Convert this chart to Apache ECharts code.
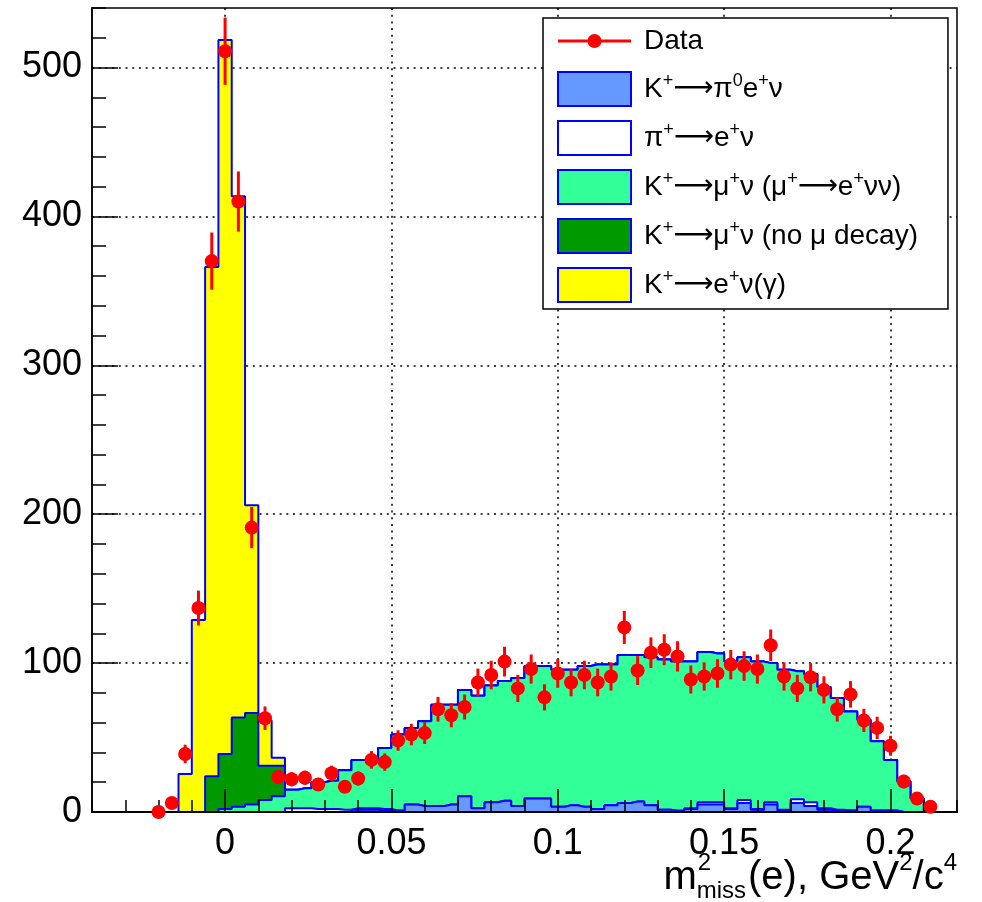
<!DOCTYPE html>
<html><head><meta charset="utf-8">
<script src="https://cdn.jsdelivr.net/npm/echarts@6/dist/echarts.min.js"></script>
<style>html,body{margin:0;padding:0;background:#fff}#c{width:982px;height:902px}</style>
</head><body><div id="c"></div>
<script>
// bin centres (GeV^2/c^4), bin width 0.004
const binCenters = [-0.024,-0.020,-0.016,-0.012,-0.008,-0.004,0,0.004,0.008,0.012,
  0.016,0.020,0.024,0.028,0.032,0.036,0.040,0.044,0.048,0.052,
  0.056,0.060,0.064,0.068,0.072,0.076,0.080,0.084,0.088,0.092,
  0.096,0.100,0.104,0.108,0.112,0.116,0.120,0.124,0.128,0.132,
  0.136,0.140,0.144,0.148,0.152,0.156,0.160,0.164,0.168,0.172,
  0.176,0.180,0.184,0.188,0.192,0.196,0.200,0.204,0.208,0.212,0.216];
const dataCounts = [null,0,6,39,137,370,511,410,191,63,
  23.5,22,23,18.5,26,17,22.5,35,33.5,48,
  52,53,69,65,70.5,87,92,101,83,96,
  77,93,87,92,87,91,124,95,107,109,
  104.5,89,91,93,99,98,96,112,91,83,
  90.5,82,69,79,61.5,56.5,44.5,20.5,9,3.5,null];
const dataErrors = [null,0,2.4,6.2,11.7,19.2,22.6,20.2,13.8,7.9,
  4.8,4.7,4.8,4.3,5.1,4.1,4.7,5.9,5.8,6.9,
  7.2,7.3,8.3,8.1,8.4,9.3,9.6,10,9.1,9.8,
  8.8,9.6,9.3,9.6,9.3,9.5,11.1,9.7,10.3,10.4,
  10.2,9.4,9.5,9.6,9.9,9.9,9.8,10.6,9.5,9.1,
  9.5,9.1,8.3,8.9,7.8,7.5,6.7,4.5,3,1.9,null];
const kPi0ENu = [0,0,0,0,0,0,0,0,0,0,
  0,0,0,0,0,0,1.5,1.5,1,1,
  5,4,4,5,10.5,2.5,6.5,7.5,4,9,
  9,3.5,4.5,3.5,2,4.5,6,7,4.5,1.5,
  0.5,2,5,5,2,6,1.5,5,1,6,
  4,1.5,1,1,3.5,1,1,0,0,0,0];
const piENu = [0,0,0,0,0,0,0,0,0,0,
  0,2.5,2.5,2,2,1.5,1,1,1,0,
  0,0,0,0,0,0,0,0,0,0,
  0,0,0,0,0,0,0,0,0,0,
  0.5,0.5,1.5,1.5,0.5,2,0.5,1.5,0.5,2.5,
  2.5,1,0.5,0,0,0,0,0,0,0,0];
const kMuNuDecay = [0,0,0,0,0,0,2,3.5,5,8,
  10.5,12.5,13.5,18,19,26.5,32.5,32.5,41,51,
  51.5,57,68,67,71.5,75.5,78.5,80.5,86,89,
  89,92,91,94.5,97,94.5,99.5,98.5,99.5,101,
  100,98.5,101,100,98.5,96,99,93.5,94,86,
  86,81.5,75,66.5,58.5,46.5,34,20.5,9,0,0];
const kMuNuNoDecay = [0,0,0,0,0,24,37,60,61.5,23,
  20.5,0,0,0,0,0,0,0,0,0,
  0,0,0,0,0,0,0,0,0,0,
  0,0,0,0,0,0,0,0,0,0,
  0,0,0,0,0,0,0,0,0,0,
  0,0,0,0,0,0,0,0,0,0,0];
const kENuGamma = [0,0,0,25.5,129,342,479.5,350,139.5,30.5,
  5.5,0,0,0,0,0,0,0,0,0,
  0,0,0,0,0,0,0,0,0,0,
  0,0,0,0,0,0,0,0,0,0,
  0,0,0,0,0,0,0,0,0,0,
  0,0,0,0,0,0,0,0,0,0,0];
const xTicks = [0, 0.05, 0.1, 0.15, 0.2];
const xTickLabels = ['0', '0.05', '0.1', '0.15', '0.2'];
const yTicks = [0, 100, 200, 300, 400, 500];
const yTickLabels = ['0', '100', '200', '300', '400', '500'];

const FONT = "'Liberation Sans', Arial, Helvetica, sans-serif";
const names = ['Data', 'K⁺→π⁰e⁺ν', 'π⁺→e⁺ν', 'K⁺→μ⁺ν (μ⁺→e⁺νν)', 'K⁺→μ⁺ν (no μ decay)', 'K⁺→e⁺ν(γ)'];
const AR = '{a|⟶}';
const richNames = {
  'Data': '{n|Data}',
  'K⁺→π⁰e⁺ν': '{n|K}{s|+}' + AR + '{n|π}{s|0}{n|e}{s|+}{n|ν}',
  'π⁺→e⁺ν': '{n|π}{s|+}' + AR + '{n|e}{s|+}{n|ν}',
  'K⁺→μ⁺ν (μ⁺→e⁺νν)': '{n|K}{s|+}' + AR + '{n|μ}{s|+}{n|ν (μ}{s|+}' + AR + '{n|e}{s|+}{n|νν)}',
  'K⁺→μ⁺ν (no μ decay)': '{n|K}{s|+}' + AR + '{n|μ}{s|+}{n|ν (no μ decay)}',
  'K⁺→e⁺ν(γ)': '{n|K}{s|+}' + AR + '{n|e}{s|+}{n|ν(γ)}'
};
const fills = ['#6699ff', '#ffffff', '#33ff99', '#009900', '#ffff00'];
const comps = [kPi0ENu, piENu, kMuNuDecay, kMuNuNoDecay, kENuGamma];

// THStack-like cumulative histograms (bottom component first)
const cumulative = [];
comps.forEach((arr, i) => {
  cumulative.push(arr.map((v, j) => v + (i > 0 ? cumulative[i - 1][j] : 0)));
});

function stepSeries(i) {
  return {
    name: names[i + 1], type: 'line', step: 'middle', symbol: 'none',
    data: binCenters.map((x, j) => [x, cumulative[i][j]]),
    lineStyle: { color: '#0000ff', width: 2 },
    itemStyle: { color: fills[i] },
    areaStyle: { color: fills[i], opacity: 1, origin: 'start' },
    z: 8 - i, silent: true, xAxisIndex: 0, yAxisIndex: 0
  };
}

const pts = [];
binCenters.forEach((x, j) => { if (dataCounts[j] !== null) pts.push([x, dataCounts[j], dataErrors[j]]); });

const series = [4, 3, 2, 1, 0].map(stepSeries);
series.push({
  name: 'Data', type: 'custom', z: 20, xAxisIndex: 0, yAxisIndex: 0,
  data: pts, encode: { x: 0, y: 1 },
  renderItem: function (params, api) {
    const x = api.value(0), y = api.value(1), e = api.value(2);
    const p = api.coord([x, y]);
    const lo = api.coord([x, y - e]);
    const hi = api.coord([x, y + e]);
    return { type: 'group', children: [
      { type: 'line', shape: { x1: p[0], y1: lo[1], x2: p[0], y2: hi[1] }, style: { stroke: '#ff0000', lineWidth: 3 } },
      { type: 'circle', shape: { cx: p[0], cy: p[1], r: 7 }, style: { fill: '#ff0000' } }
    ] };
  }
});

const dotted = { color: '#000', type: [2, 4.7], width: 1.5 };
const baseX = { type: 'value', min: -0.04, max: 0.22, gridIndex: 0 };
const baseY = { type: 'value', min: 0, max: 540, gridIndex: 0 };

const legendData = [
  { name: 'Data', icon: 'path://M0,0L0.01,0L0,0.01Z M73,34L72.99,34L73,33.99Z M0,15.5L73,15.5L73,18.5L0,18.5Z M43.5,17A7,7,0,1,1,29.5,17A7,7,0,1,1,43.5,17Z', itemStyle: { color: '#ff0000', borderWidth: 0 } }
].concat([0, 1, 2, 3, 4].map(i => ({ name: names[i + 1], icon: 'rect', itemStyle: { color: fills[i], borderColor: '#0000ff', borderWidth: 2 } })));

const option = {
  animation: false,
  backgroundColor: '#fff',
  grid: { left: 92, top: 8, right: 25, bottom: 90, show: true, borderColor: '#000', borderWidth: 1.5, backgroundColor: 'rgba(0,0,0,0)' },
  xAxis: [
    Object.assign({}, baseX, { z: 0, axisLine: { show: false }, axisTick: { show: false, customValues: xTicks }, axisLabel: { show: false, customValues: xTicks }, splitLine: { show: true, lineStyle: dotted } }),
    Object.assign({}, baseX, { z: 10, position: 'bottom', axisLine: { show: true, onZero: false, lineStyle: { color: '#000', width: 2 } },
      axisTick: { show: true, inside: true, length: 23, customValues: xTicks, lineStyle: { color: '#000', width: 1.5 } },
      axisLabel: { show: true, customValues: xTicks, margin: 14, fontSize: 36, color: '#000', fontFamily: FONT,
        formatter: v => { const i = xTicks.findIndex(t => Math.abs(t - v) < 1e-9); return i >= 0 ? xTickLabels[i] : ''; } },
      splitLine: { show: false } }),
    Object.assign({}, baseX, { z: 10, position: 'bottom', interval: 0.01, axisLine: { show: false, onZero: false },
      axisTick: { show: true, inside: true, length: 12, lineStyle: { color: '#000', width: 1.5 } },
      axisLabel: { show: false }, splitLine: { show: false } })
  ],
  yAxis: [
    Object.assign({}, baseY, { z: 0, axisLine: { show: false }, axisTick: { show: false, customValues: yTicks }, axisLabel: { show: false, customValues: yTicks }, splitLine: { show: true, lineStyle: dotted } }),
    Object.assign({}, baseY, { z: 10, position: 'left', axisLine: { show: true, onZero: false, lineStyle: { color: '#000', width: 1.5 } },
      axisTick: { show: true, inside: true, length: 26, customValues: yTicks, lineStyle: { color: '#000', width: 1.5 } },
      axisLabel: { show: true, customValues: yTicks, margin: 10, fontSize: 36, color: '#000', fontFamily: FONT,
        formatter: v => { const i = yTicks.indexOf(v); return i >= 0 ? yTickLabels[i] : ''; } },
      splitLine: { show: false } }),
    Object.assign({}, baseY, { z: 10, position: 'left', interval: 20, axisLine: { show: false, onZero: false },
      axisTick: { show: true, inside: true, length: 14, lineStyle: { color: '#000', width: 1.5 } },
      axisLabel: { show: false }, splitLine: { show: false } })
  ],
  legend: {
    orient: 'vertical', left: 543, top: 18, padding: [6, 30, 6, 14], itemGap: 13,
    itemWidth: 73, itemHeight: 34, selectedMode: false, z: 30,
    backgroundColor: '#fff', borderColor: '#000', borderWidth: 1.5,
    data: legendData,
    formatter: name => richNames[name],
    textStyle: { color: '#000', fontFamily: FONT, fontSize: 28, padding: [0, 0, 0, 8],
      rich: {
        n: { fontSize: 28, fontFamily: FONT, color: '#000', lineHeight: 34 },
        a: { fontSize: 28, fontFamily: "'DejaVu Sans', sans-serif", color: '#000', lineHeight: 34 },
        s: { fontSize: 18, fontFamily: FONT, color: '#000', lineHeight: 20, verticalAlign: 'top' }
      } }
  },
  series: series
};

const chart = echarts.init(document.getElementById('c'), null, { renderer: 'canvas' });
chart.setOption(option);

// axis title: m^2_miss(e), GeV^2/c^4, right-aligned to the frame
(function () {
  const F = 40, S = 24;
  const cv = document.createElement('canvas').getContext('2d');
  const w = (t, f) => { cv.font = f + 'px ' + FONT; return cv.measureText(t).width; };
  const parts = [
    { t: 'm', f: F, dy: 0 },
    { t: 'miss', f: S, dy: 9, stackSup: '2' },
    { t: '(e), GeV', f: F, dy: 0, gap: 2 },
    { t: '2', f: S, dy: -19 },
    { t: '/c', f: F, dy: 0 },
    { t: '4', f: S, dy: -19 }
  ];
  let total = 0;
  parts.forEach(p => { p.w = w(p.t, p.f); total += p.w + (p.gap || 0); });
  const right = 957, baseline = 890;
  let x = right - total;
  const els = [];
  parts.forEach(p => {
    x += (p.gap || 0);
    const fs = p.f;
    els.push({ type: 'text', x: x, y: baseline + p.dy - 0.31 * fs, style: { text: p.t, font: fs + 'px ' + FONT, fill: '#000', verticalAlign: 'middle', align: 'left' } });
    if (p.stackSup) {
      els.push({ type: 'text', x: x + 1, y: baseline - 19 - 0.31 * fs, style: { text: p.stackSup, font: fs + 'px ' + FONT, fill: '#000', verticalAlign: 'middle', align: 'left' } });
    }
    x += p.w;
  });
  chart.setOption({ graphic: els });
})();
</script></body></html>
